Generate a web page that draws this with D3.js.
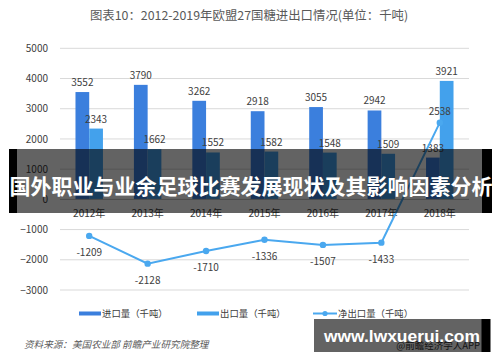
<!DOCTYPE html>
<html>
<head>
<meta charset="utf-8">
<script src="https://cdn.jsdelivr.net/npm/d3@7"></script>
<style>
  html, body { margin: 0; padding: 0; background: #fff; }
  svg { display: block; font-family: "Noto Sans CJK SC", "Noto Sans", sans-serif; }
</style>
</head>
<body>
<svg id="chart" width="500" height="362"></svg>
<script>
// --- data ---
const years = ["2012年", "2013年", "2014年", "2015年", "2016年", "2017年", "2018年"];
const imports = [3552, 3790, 3262, 2918, 3055, 2942, 1383];
const exports_ = [2343, 1662, 1552, 1582, 1548, 1509, 3921];
const net = [-1209, -2128, -1710, -1336, -1507, -1433, 2538];
const yTicks = [5000, 4000, 3000, 2000, 1000, 0, -1000, -2000, -3000];
const seriesNames = ["进口量（千吨）", "出口量（千吨）", "净出口量（千吨）"];

const C_IMP = "#3b7fdd", C_EXP = "#43a1ec", C_NET = "#4aa8ef";

const svg = d3.select("#chart");

// title
svg.append("text")
  .attr("x", 249).attr("y", 20)
  .attr("text-anchor", "middle")
  .attr("font-size", 12.4)
  .attr("fill", "#595959")
  .text("图表10：2012-2019年欧盟27国糖进出口情况(单位：千吨)");

const x = d3.scaleBand().domain(years).range([60, 469]).paddingInner(0.53).paddingOuter(0.265);
const xs = d3.scaleBand().domain(["imp", "exp"]).range([0, x.bandwidth()]);
const y = d3.scaleLinear().domain([-3000, 5000]).range([290, 48.3]);

// gridlines
svg.append("g").selectAll("line")
  .data(yTicks.filter(d => d !== 0)).join("line")
  .attr("x1", 60).attr("x2", 469)
  .attr("y1", d => y(d)).attr("y2", d => y(d))
  .attr("stroke", "#d9d9d9").attr("stroke-width", 1);

// y axis labels
const yAxis = svg.append("g")
  .attr("transform", "translate(52,0)")
  .call(d3.axisLeft(y).tickValues(yTicks).tickSize(0).tickPadding(4).tickFormat(d3.format("d")));
yAxis.select(".domain").remove();
yAxis.selectAll("text").attr("font-size", 10).attr("fill", "#404040")
  .attr("font-family", "'Noto Sans CJK SC', sans-serif");

// bars
const g = svg.append("g");
g.selectAll("rect.imp").data(imports).join("rect").attr("class", "imp")
  .attr("x", (d, i) => x(years[i]) + xs("imp"))
  .attr("width", xs.bandwidth())
  .attr("y", d => y(d)).attr("height", d => y(0) - y(d))
  .attr("fill", C_IMP);
g.selectAll("rect.exp").data(exports_).join("rect").attr("class", "exp")
  .attr("x", (d, i) => x(years[i]) + xs("exp"))
  .attr("width", xs.bandwidth())
  .attr("y", d => y(d)).attr("height", d => y(0) - y(d))
  .attr("fill", C_EXP);

// zero axis line
svg.append("line")
  .attr("x1", 60).attr("x2", 469).attr("y1", y(0)).attr("y2", y(0))
  .attr("stroke", "#bfbfbf");

// x labels
svg.append("g").selectAll("text").data(years).join("text")
  .attr("x", d => x(d) + x.bandwidth() / 2)
  .attr("y", 217)
  .attr("text-anchor", "middle")
  .attr("font-size", 10).attr("fill", "#404040")
  .text(d => d);

// bar value labels
g.selectAll("text.impl").data(imports).join("text").attr("class", "impl")
  .attr("x", (d, i) => x(years[i]) + xs("imp") + xs.bandwidth() / 2)
  .attr("y", d => y(d) - 6)
  .attr("text-anchor", "middle").attr("font-size", 10).attr("fill", "#404040")
  .text(d => d);
g.selectAll("text.expl").data(exports_).join("text").attr("class", "expl")
  .attr("x", (d, i) => x(years[i]) + xs("exp") + xs.bandwidth() / 2)
  .attr("y", d => y(d) - 6)
  .attr("text-anchor", "middle").attr("font-size", 10).attr("fill", "#404040")
  .text(d => d);

// net export line
const cx = (d, i) => x(years[i]) + x.bandwidth() / 2;
svg.append("path")
  .datum(net)
  .attr("fill", "none").attr("stroke", C_NET).attr("stroke-width", 2)
  .attr("d", d3.line().x(cx).y(d => y(d)));
svg.append("g").selectAll("circle").data(net).join("circle")
  .attr("cx", cx).attr("cy", d => y(d)).attr("r", 3.2)
  .attr("fill", C_NET);
svg.append("g").selectAll("text").data(net).join("text")
  .attr("x", cx)
  .attr("y", d => d < 0 ? y(d) + 20 : y(d) - 8)
  .attr("text-anchor", "middle").attr("font-size", 10).attr("fill", "#404040")
  .text(d => d);

// legend
const lg = svg.append("g").attr("font-size", 9.4).attr("fill", "#404040");
const lx = [79, 197, 313];
lg.append("rect").attr("x", lx[0]).attr("y", 311.5).attr("width", 22).attr("height", 4).attr("fill", C_IMP);
lg.append("rect").attr("x", lx[1]).attr("y", 311.5).attr("width", 22).attr("height", 4).attr("fill", C_EXP);
lg.append("line").attr("x1", lx[2]).attr("x2", lx[2] + 24).attr("y1", 313.5).attr("y2", 313.5)
  .attr("stroke", C_NET).attr("stroke-width", 2);
lg.append("circle").attr("cx", lx[2] + 12).attr("cy", 313.5).attr("r", 2.6).attr("fill", C_NET);
lg.selectAll("text").data(seriesNames).join("text")
  .attr("x", (d, i) => lx[i] + (i === 2 ? 25 : 23))
  .attr("y", 317)
  .text(d => d);

// source
svg.append("text")
  .attr("x", 24).attr("y", 348)
  .attr("font-size", 9.6).attr("font-style", "italic").attr("fill", "#595959")
  .text("资料来源：美国农业部 前瞻产业研究院整理");

// app credit (under the stamp)
svg.append("text")
  .attr("x", 480).attr("y", 349)
  .attr("text-anchor", "end")
  .attr("font-size", 9.5).attr("fill", "#333")
  .text("@前瞻经济学人APP");

// banner overlay
const banner = svg.append("g");
banner.append("rect").attr("x", 9).attr("y", 149).attr("width", 483).attr("height", 64)
  .attr("fill", "#000").attr("fill-opacity", 0.61);
banner.append("rect").attr("x", 9).attr("y", 149).attr("width", 8).attr("height", 64).attr("fill", "#000");
banner.append("rect").attr("x", 482).attr("y", 149).attr("width", 10).attr("height", 64).attr("fill", "#000");
banner.append("text")
  .attr("x", 251).attr("y", 194)
  .attr("text-anchor", "middle")
  .attr("font-size", 21).attr("font-weight", 700).attr("fill", "#fff")
  .text("国外职业与业余足球比赛发展现状及其影响因素分析");

// url stamp
const stamp = svg.append("g");
stamp.append("rect").attr("x", 314).attr("y", 319).attr("width", 168).attr("height", 33)
  .attr("fill", "#000").attr("fill-opacity", 0.61);
stamp.append("rect").attr("x", 481.5).attr("y", 319).attr("width", 9).attr("height", 33).attr("fill", "#000");
stamp.append("text")
  .attr("x", 402).attr("y", 341.5)
  .attr("text-anchor", "middle")
  .attr("font-family", "'Liberation Sans', Arial, sans-serif")
  .attr("font-size", 17.4).attr("font-weight", 700).attr("fill", "#fff")
  .text("www.lwxuerui.com");
</script>
</body>
</html>
